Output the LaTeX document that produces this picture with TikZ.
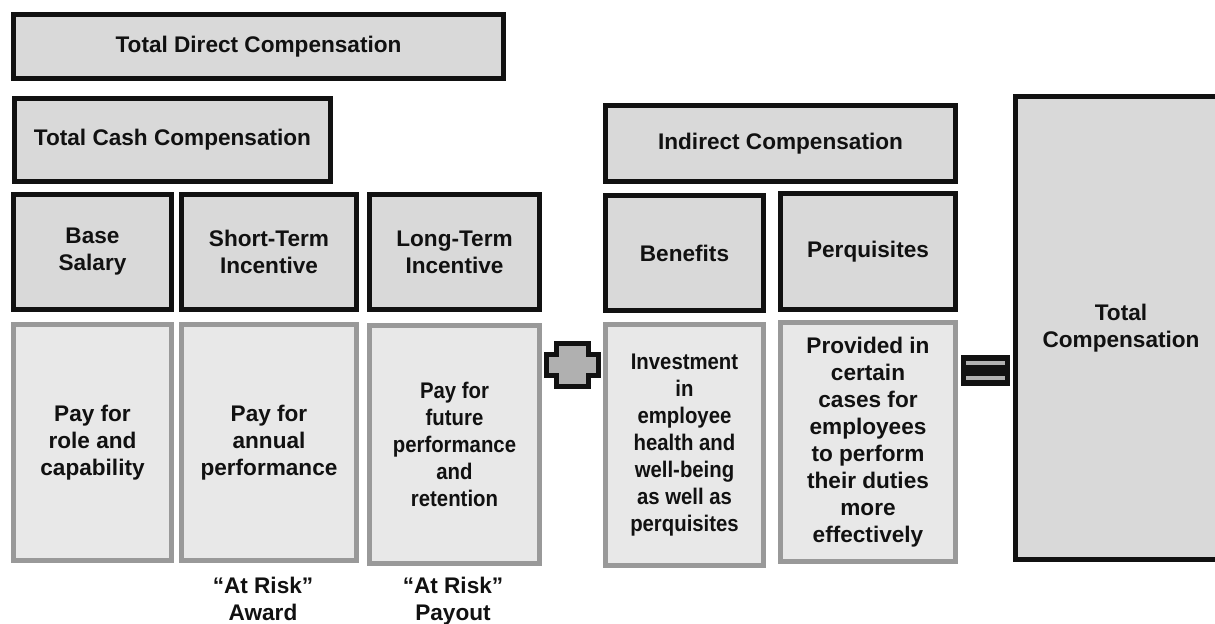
\documentclass[tikz,border=0pt]{standalone}
\usepackage{fontspec}
\setmainfont{Liberation Sans}
\newfontfamily\narrowsans[FakeStretch=0.9]{Liberation Sans}
\usetikzlibrary{positioning}
\definecolor{boxblack}{HTML}{111111}
\definecolor{headfill}{HTML}{D9D9D9}
\definecolor{descfill}{HTML}{E8E8E8}
\definecolor{descedge}{HTML}{999999}
\definecolor{signfill}{HTML}{B0B0B0}

\begin{document}
\begin{tikzpicture}[
      x=0.5pt, y=-0.5pt,
      head/.style={draw=boxblack, fill=headfill, line width=2.5pt, inner sep=0pt,
                   align=center, text=boxblack,
                   font=\bfseries\fontsize{11.3}{13.5}\selectfont},
      desc/.style={head, draw=descedge, fill=descfill},
      narrow/.style={font=\narrowsans\bfseries\fontsize{11.3}{13.5}\selectfont},
      note/.style={align=center, inner sep=0pt, text=boxblack, anchor=north,
                   font=\bfseries\fontsize{11.3}{13.5}\selectfont}
    ]
    \useasboundingbox (0,0) rectangle (1215,624);

    % top level
    \node[head, minimum width=245pt, minimum height=32pt] (direct) at (258.5,46.5)
      {Total Direct Compensation};
    \node[head, minimum width=158pt, minimum height=41.5pt] (cash) at (172.5,140)
      {Total Cash Compensation};
    \node[head, minimum width=175pt, minimum height=38pt] (indirect) at (780.5,143.5)
      {Indirect Compensation};

    % elements
    \node[head, minimum width=79pt, minimum height=57.5pt] (base) at (92.5,252)
      {Base\\Salary};
    \node[head, minimum width=87.5pt, minimum height=57.5pt] (sti) at (269,252)
      {Short-Term\\Incentive};
    \node[head, minimum width=85pt, minimum height=57.5pt] (lti) at (454.5,252)
      {Long-Term\\Incentive};
    \node[head, minimum width=79pt, minimum height=57.5pt] (benefits) at (684.5,253)
      {Benefits};
    \node[head, minimum width=87.5pt, minimum height=58pt] (perqs) at (868,251.5)
      {Perquisites};

    % descriptions
    \node[desc, minimum width=79pt, minimum height=118pt] (basedesc) at (92.5,442.5)
      {Pay for\\role and\\capability};
    \node[desc, minimum width=87.5pt, minimum height=118pt] (stidesc) at (269,442.5)
      {Pay for\\annual\\performance};
    \node[desc, narrow, minimum width=85pt, minimum height=119pt] (ltidesc) at (454.5,444.5)
      {Pay for\\future\\performance\\and\\retention};
    \node[desc, narrow, minimum width=79pt, minimum height=120.5pt] (bendesc) at (684.5,445)
      {Investment\\in\\employee\\health and\\well-being\\as well as\\perquisites};
    \node[desc, minimum width=87.5pt, minimum height=119.5pt] (perqdesc) at (868,442)
      {Provided in\\certain\\cases for\\employees\\to perform\\their duties\\more\\effectively};

    \node[note] (award) at (263,577) {“At Risk”\\Award};
    \node[note] (payout) at (453,577) {“At Risk”\\Payout};

    % total
    \node[head, minimum width=105.5pt, minimum height=231.5pt] (total) at (1121,328)
      {Total\\Compensation};

    % plus sign
    \draw[boxblack, fill=signfill, line width=2.5pt]
      (556.5,343.5) -- (588.5,343.5) -- (588.5,354.5) -- (598.5,354.5)
      -- (598.5,375.5) -- (588.5,375.5) -- (588.5,386.5) -- (556.5,386.5)
      -- (556.5,375.5) -- (546.5,375.5) -- (546.5,354.5) -- (556.5,354.5) -- cycle;

    % equals sign
    \fill[boxblack] (961,355) rectangle (1010,386);
    \fill[signfill] (966,361) rectangle (1005,365);
    \fill[signfill] (966,376) rectangle (1005,380);
  \end{tikzpicture}
\end{document}
